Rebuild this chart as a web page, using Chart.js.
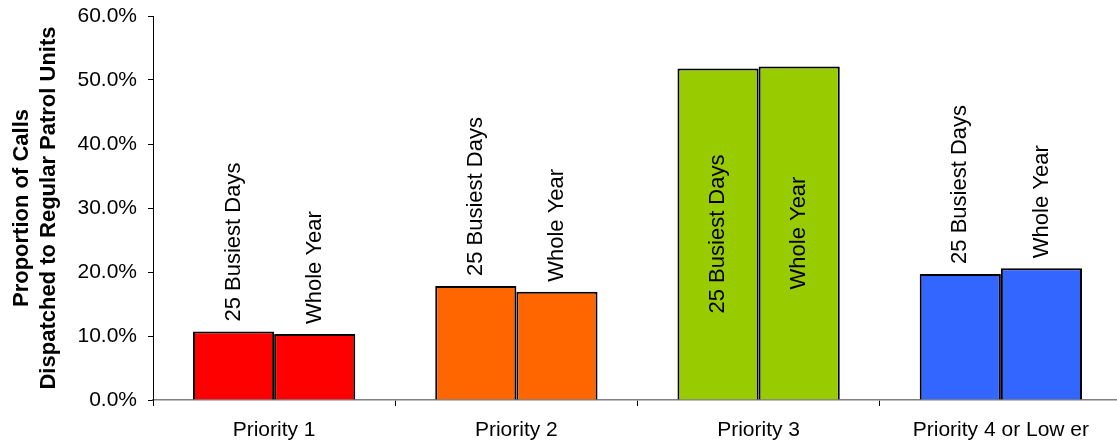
<!DOCTYPE html>
<html>
<head>
<meta charset="utf-8">
<script src="https://cdn.jsdelivr.net/npm/chart.js@4.4.0/dist/chart.umd.min.js"></script>
<style>
  html, body { margin: 0; padding: 0; background: #fff; overflow: hidden; }
  #wrap { width: 1123px; height: 445px; position: relative; }
</style>
</head>
<body>
<div id="wrap"><canvas id="barChart"></canvas></div>
<script>
    // categories and series
    const categories = ["Priority 1", "Priority 2", "Priority 3", "Priority 4 or Low er"];
    const seriesNames = ["25 Busiest Days", "Whole Year"];
    const busiestDays = [10.7, 17.8, 51.8, 19.7];
    const wholeYear = [10.3, 16.9, 52.1, 20.6];
    const yTicks = [0, 10, 20, 30, 40, 50, 60];
    const barColors = ["#FF0000", "#FF6600", "#99CC00", "#3366FF"];

    const FONT = "'Liberation Sans', Arial, sans-serif";

    // labels drawn vertically above each bar, or centered inside when they don't fit
    const barLabels = {
      id: 'barLabels',
      afterDatasetsDraw(chart) {
        const {ctx, chartArea} = chart;
        ctx.save();
        ctx.font = '22px ' + FONT;
        ctx.fillStyle = '#000';
        ctx.textBaseline = 'middle';
        chart.data.datasets.forEach((ds, i) => {
          chart.getDatasetMeta(i).data.forEach((bar) => {
            const w = ctx.measureText(ds.label).width;
            const gap = 10;
            ctx.save();
            ctx.translate(bar.x, 0);
            ctx.rotate(-Math.PI / 2);
            if (bar.y - gap - w >= chartArea.top) {
              ctx.textAlign = 'left';
              ctx.fillText(ds.label, -(bar.y - gap), 0);
            } else {
              ctx.textAlign = 'center';
              ctx.fillText(ds.label, -(bar.y + bar.base) / 2, 0);
            }
            ctx.restore();
          });
        });
        ctx.restore();
      }
    };

    let chart = new Chart(document.getElementById('barChart'), {
      type: 'bar',
      data: {
        labels: categories,
        datasets: [
          {
            label: seriesNames[0],
            data: busiestDays,
            backgroundColor: barColors,
            borderColor: '#000',
            borderWidth: 2,
            barPercentage: 1,
            categoryPercentage: 0.67,
          },
          {
            label: seriesNames[1],
            data: wholeYear,
            backgroundColor: barColors,
            borderColor: '#000',
            borderWidth: 2,
            barPercentage: 1,
            categoryPercentage: 0.67,
          }
        ]
      },
      options: {
        responsive: true,
        maintainAspectRatio: false,
        animation: false,
        layout: {
          padding: { top: 16, right: 1, left: 0, bottom: 0 }
        },
        plugins: {
          legend: { display: false },
          tooltip: { enabled: false }
        },
        scales: {
          x: {
            grid: {
              offset: true,
              drawOnChartArea: false,
              tickLength: 6,
              color: '#000'
            },
            border: { color: '#808080', width: 1.5 },
            ticks: {
              color: '#000',
              padding: 12,
              maxRotation: 0,
              font: { family: FONT, size: 21 }
            },
            afterFit(scale) { scale.height = 45; }
          },
          y: {
            min: 0,
            max: 60,
            afterBuildTicks(scale) {
              scale.ticks = yTicks.map(v => ({ value: v }));
            },
            grid: {
              drawOnChartArea: false,
              tickLength: 5,
              color: '#000'
            },
            border: { color: '#000', width: 1 },
            ticks: {
              color: '#000',
              padding: 11,
              font: { family: FONT, size: 21 },
              callback: (v) => v.toFixed(1) + '%'
            },
            title: {
              display: true,
              text: ['Proportion of Calls', 'Dispatched to Regular Patrol Units'],
              color: '#000',
              font: { family: FONT, size: 22, weight: 'bold', lineHeight: 1.2 },
              padding: { top: 9, bottom: 0 }
            },
            afterFit(scale) {
              scale.width = 153;
              scale.paddingTop = 0;
              scale.paddingBottom = 0;
            }
          }
        }
      },
      plugins: [barLabels]
    });
</script>
</body>
</html>
